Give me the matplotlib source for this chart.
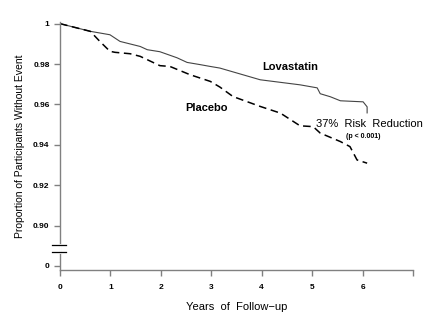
import matplotlib
matplotlib.use("Agg")
import matplotlib.pyplot as plt

plt.rcParams['font.family'] = ['Liberation Sans', 'DejaVu Sans']

# Kaplan-Meier style curves
lova_years = [0, 0.6, 0.99, 1.19, 1.59, 1.73, 1.98, 2.32, 2.52, 2.78, 2.98, 3.17,
              3.97, 4.76, 5.10, 5.16, 5.36, 5.56, 5.99, 6.01, 6.09, 6.09]
lova_surv = [1.0, 0.9962, 0.9945, 0.9912, 0.9887, 0.9871, 0.9861, 0.9831, 0.9808,
             0.9797, 0.9788, 0.9780, 0.9722, 0.9697, 0.9682, 0.9653, 0.9638,
             0.9618, 0.9613, 0.9613, 0.9588, 0.9558]

plac_years = [0, 0.6, 0.79, 0.99, 1.09, 1.39, 1.59, 1.98, 2.18, 2.58, 2.98, 3.17,
              3.43, 3.97, 4.37, 4.76, 5.02, 5.16, 5.56, 5.75, 5.89, 6.09]
plac_surv = [1.0, 0.9962, 0.9912, 0.9863, 0.9858, 0.9851, 0.9838, 0.9792, 0.9788,
             0.9747, 0.9714, 0.9686, 0.9639, 0.9590, 0.9557, 0.9494, 0.9490,
             0.9458, 0.9416, 0.9391, 0.9325, 0.9309]

xticks = [0, 1, 2, 3, 4, 5, 6, 7]
xtick_labels = ['0', '1', '2', '3', '4', '5', '6', '']
yticks = [0.88, 0.90, 0.92, 0.94, 0.96, 0.98, 1.0]
ytick_labels = ['0', '0.90', '0.92', '0.94', '0.96', '0.98', '1']

fig = plt.figure(figsize=(4.39, 3.24), dpi=100)
ax = fig.add_axes([0.1367, 0.1667, 0.8041, 0.7653])

ax.plot(lova_years, lova_surv, color='#444444', lw=0.8)
ax.plot(plac_years, plac_surv, color='black', lw=1.1, linestyle=(0, (5, 3)))

ax.set_xlim(0, 7)
ax.set_ylim(0.878, 1.0008)
ax.set_xticks(xticks)
ax.set_xticklabels(xtick_labels)
ax.set_yticks(yticks)
ax.set_yticklabels(ytick_labels)

for s in ['top', 'right']:
    ax.spines[s].set_visible(False)
for s in ['left', 'bottom']:
    ax.spines[s].set_color('#808080')
    ax.spines[s].set_linewidth(1.0)
ax.tick_params(colors='#808080', labelcolor='black', length=4, width=1)
ax.tick_params(axis='x', pad=6)
for lab in ax.get_xticklabels() + ax.get_yticklabels():
    lab.set_fontsize(6)
    lab.set_fontweight('bold')

# axis break
ax.plot([0, 0], [0.8871, 0.8906], color='white', lw=2, clip_on=False, zorder=5)
for yb in [0.8871, 0.8906]:
    ax.plot([-0.16, 0.12], [yb, yb], color='black', lw=0.9, clip_on=False, zorder=6)

ax.set_xlabel('Years  of  Follow\u2212up', fontsize=8, labelpad=8)
ax.set_ylabel('Proportion of Participants Without Event', fontsize=7.5, labelpad=6)

ax.text(4.56, 0.9787, 'Lovastatin', fontsize=8, fontweight='bold', ha='center', va='center')
ax.text(2.48, 0.9583, 'Placebo', fontsize=8, fontweight='bold', ha='left', va='center')
ax.text(5.08, 0.9504, '37%  Risk  Reduction', fontsize=8, ha='left', va='center')
ax.text(5.67, 0.9439, '(p < 0.001)', fontsize=5, fontweight='bold', ha='left', va='center')

fig.savefig('out.png', dpi=100)
